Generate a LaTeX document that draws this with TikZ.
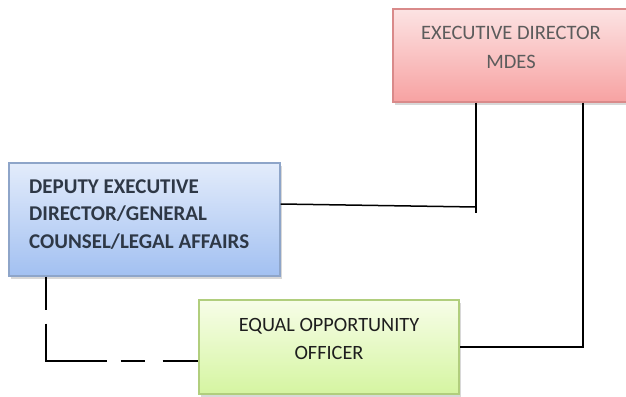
\documentclass[tikz,border=0pt]{standalone}
\usepackage{fontspec}
\setmainfont{Carlito}
\usetikzlibrary{shadows}
\definecolor{redtop}{HTML}{FCE3E3}
\definecolor{redbot}{HTML}{F7A2A2}
\definecolor{redline}{HTML}{D98A8A}
\definecolor{redtext}{HTML}{5C5C5C}
\definecolor{bluetop}{HTML}{E3ECFB}
\definecolor{bluebot}{HTML}{A2C0F1}
\definecolor{blueline}{HTML}{8EA5C9}
\definecolor{bluetext}{HTML}{2E3846}
\definecolor{greentop}{HTML}{F7FDE8}
\definecolor{greenbot}{HTML}{D5F5A1}
\definecolor{greenline}{HTML}{B1CE7D}
\definecolor{greentext}{HTML}{1E1E1E}
\begin{document}
\begin{tikzpicture}[x=1pt,y=-1pt,
  box/.style={line width=1.3pt, inner sep=0pt,
    drop shadow={shadow xshift=1.5pt,shadow yshift=-2.5pt,opacity=0.3}},
  redbox/.style={box, draw=redline, top color=redtop, bottom color=redbot},
  bluebox/.style={box, draw=blueline, top color=bluetop, bottom color=bluebot},
  greenbox/.style={box, draw=greenline, top color=greentop, bottom color=greenbot},
  conn/.style={draw=black, line width=1.5pt},
  redlabel/.style={inner sep=0pt, align=center, text=redtext,
    font=\fontsize{20.5}{29}\selectfont},
  bluelabel/.style={inner sep=0pt, align=left, text=bluetext, anchor=west,
    font=\fontsize{21}{27.5}\selectfont\bfseries},
  greenlabel/.style={inner sep=0pt, align=center, text=greentext,
    font=\fontsize{20.3}{28}\selectfont}]
\useasboundingbox (0,0) rectangle (626,396);
\clip (0,0) rectangle (626,396);
\fill[white] (0,0) rectangle (626,396);
% boxes
\node[redbox, minimum width=236pt, minimum height=93pt] (red) at (511,55.5) {};
\node[bluebox, minimum width=271pt, minimum height=113pt] (blue) at (144.5,219.5) {};
\node[greenbox, minimum width=260pt, minimum height=94pt] (green) at (329,347) {};
% texts
\node[redlabel] (redtxt) at (511,47.5) {EXECUTIVE DIRECTOR\\MDES};
\node[bluelabel] (bluetxt) at (29,214.5) {DEPUTY EXECUTIVE\\DIRECTOR/GENERAL\\COUNSEL/LEGAL AFFAIRS};
\node[greenlabel] (greentxt) at (329,339) {EQUAL OPPORTUNITY\\OFFICER};
% connectors
\coordinate (j1) at (476,207);
\coordinate (j1e) at (476,213);
\coordinate (c2) at (583,0);
\draw[conn] (red.south -| j1) -- (j1e);
\draw[conn] (blue.east |- 0,204) -- (j1);
\draw[conn] (red.south -| c2) |- (green.east);
\draw[conn, dash pattern=on 33pt off 14pt on 98pt off 14pt on 24pt off 18pt on 60pt]
  (blue.south -| 46,0) |- (green.west |- 0,361);
\end{tikzpicture}
\end{document}
